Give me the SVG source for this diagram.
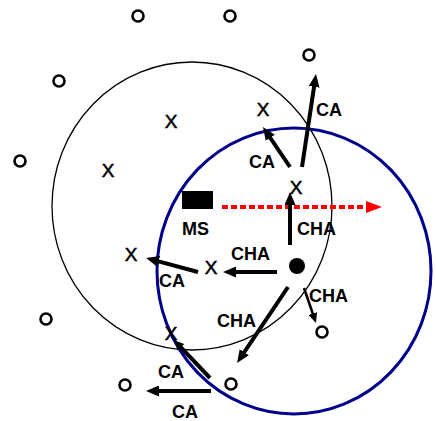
<svg xmlns="http://www.w3.org/2000/svg" width="436" height="421" viewBox="0 0 436 421">
<style>
.lbl{font-family:"Liberation Sans",Arial,sans-serif;font-weight:bold;font-size:18px;fill:#000}
.x{font-family:"Liberation Sans",Arial,sans-serif;font-size:19px;fill:#000;stroke:#000;stroke-width:0.5}
.o{fill:none;stroke:#000;stroke-width:2.6}
.arr{stroke:#000;stroke-width:4;fill:none}
.arrs{stroke:#000;stroke-width:2.6;fill:none}
</style>
<defs>
<marker id="ah" markerUnits="userSpaceOnUse" markerWidth="13" markerHeight="11" refX="3" refY="5.5" orient="auto"><path d="M0,0 L13,5.5 L0,11 z" fill="#000"/></marker>
<marker id="ahs" markerUnits="userSpaceOnUse" markerWidth="10" markerHeight="9" refX="2" refY="4.5" orient="auto"><path d="M0,0 L10,4.5 L0,9 z" fill="#000"/></marker>
<marker id="ahr" markerUnits="userSpaceOnUse" markerWidth="16" markerHeight="12" refX="2" refY="6" orient="auto"><path d="M0,0 L16,6 L0,12 z" fill="#ff0000"/></marker>
</defs>
<rect width="436" height="421" fill="#fff"/>
<g id="cell-old"><ellipse cx="192" cy="206" rx="140" ry="144" fill="none" stroke="#000" stroke-width="1.3"/></g>
<g id="cell-new"><ellipse cx="294" cy="271" rx="137" ry="143" fill="none" stroke="#00008c" stroke-width="3"/></g>
<g id="nodes-o">
<circle class="o" cx="138" cy="16" r="5.5"/>
<circle class="o" cx="230" cy="16" r="5.5"/>
<circle class="o" cx="309" cy="55" r="5.5"/>
<circle class="o" cx="59" cy="81" r="5.5"/>
<circle class="o" cx="20" cy="161" r="5.5"/>
<circle class="o" cx="46" cy="319" r="5.5"/>
<circle class="o" cx="125" cy="385" r="5.5"/>
<circle class="o" cx="231" cy="384" r="5.5"/>
<circle class="o" cx="322" cy="332" r="5.5"/>
</g>
<g id="nodes-x">
<text class="x" x="171" y="128" text-anchor="middle">X</text>
<text class="x" x="263" y="116" text-anchor="middle">X</text>
<text class="x" x="108" y="177" text-anchor="middle">X</text>
<text class="x" x="296" y="194" text-anchor="middle">X</text>
<text class="x" x="131" y="261" text-anchor="middle">X</text>
<text class="x" x="211" y="274" text-anchor="middle">X</text>
<text class="x" x="171" y="340" text-anchor="middle">X</text>
</g>
<g id="ms"><rect x="182" y="191" width="31" height="18" fill="#000"/><text class="lbl" x="182" y="235">MS</text></g>
<g id="bs"><circle cx="297" cy="266" r="8" fill="#000"/></g>
<g id="connectors">
<line x1="222" y1="207" x2="368" y2="207" stroke="#ff0000" stroke-width="4" stroke-dasharray="6,3" marker-end="url(#ahr)"/>
<line class="arr" x1="302" y1="167" x2="314.5" y2="83.9" marker-end="url(#ah)"/>
<line class="arr" x1="290" y1="167" x2="268.6" y2="135.3" marker-end="url(#ah)"/>
<line class="arr" x1="290" y1="245" x2="290" y2="202" marker-end="url(#ah)"/>
<line class="arr" x1="277" y1="272" x2="233" y2="272" marker-end="url(#ah)"/>
<line class="arr" x1="198" y1="272" x2="155.7" y2="260.6" marker-end="url(#ah)"/>
<line class="arrs" x1="304" y1="288" x2="313.4" y2="315.4" marker-end="url(#ahs)"/>
<line class="arr" x1="288" y1="287" x2="242.6" y2="354.7" marker-end="url(#ah)"/>
<line class="arr" x1="210" y1="378" x2="179.5" y2="345.8" marker-end="url(#ahs)"/>
<line class="arr" x1="211" y1="391" x2="156" y2="391" marker-end="url(#ah)"/>
</g>
<g id="labels">
<text class="lbl" x="316" y="116">CA</text>
<text class="lbl" x="249" y="168">CA</text>
<text class="lbl" x="297" y="235">CHA</text>
<text class="lbl" x="231" y="260">CHA</text>
<text class="lbl" x="159" y="287">CA</text>
<text class="lbl" x="309" y="302">CHA</text>
<text class="lbl" x="217" y="327">CHA</text>
<text class="lbl" x="158" y="378">CA</text>
<text class="lbl" x="172" y="418">CA</text>
</g>
</svg>
